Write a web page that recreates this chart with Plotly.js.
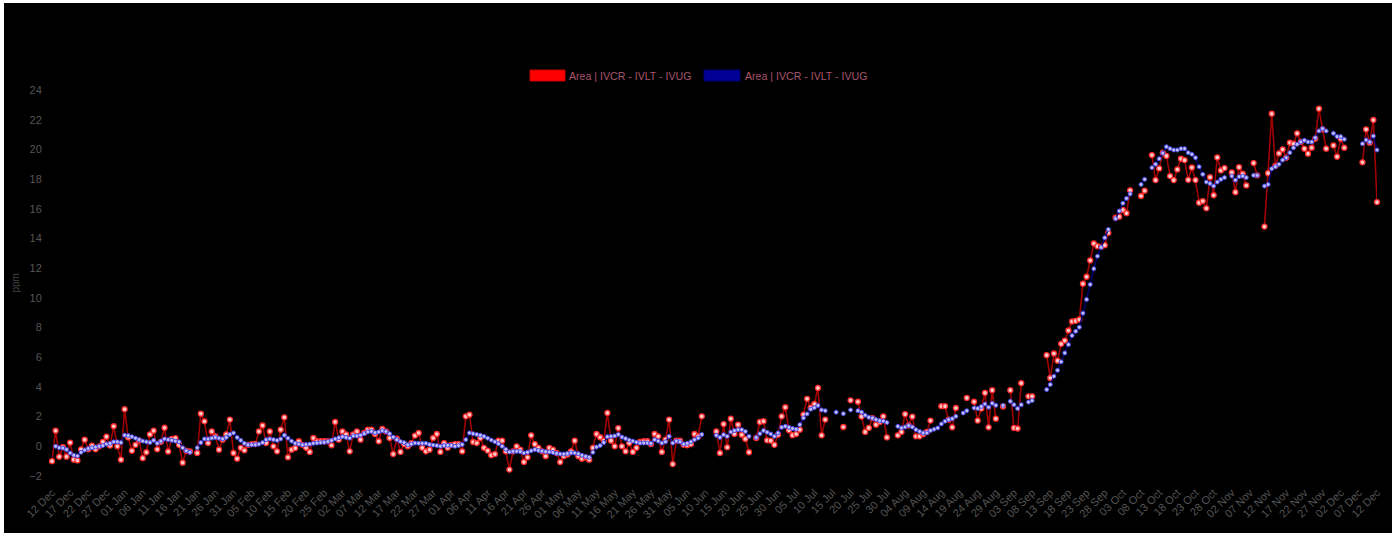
<!DOCTYPE html>
<html>
<head>
<meta charset="utf-8">
<script src="https://cdn.plot.ly/plotly-3.0.1.min.js"></script>
<style>
  html, body { margin: 0; padding: 0; background: #ffffff; width: 1400px; height: 535px; overflow: hidden; }
  #chart { position: absolute; left: 4px; top: 3px; width: 1388px; height: 530px; background: #000; }
</style>
</head>
<body>
<div id="chart"></div>
<script>
// ---- data ----
const startDate = '2022-12-12';
const numDays = 366;
const seriesName = 'Area | IVCR - IVLT - IVUG';
const yUnit = 'ppm';
const yTicks = [-2, 0, 2, 4, 6, 8, 10, 12, 14, 16, 18, 20, 22, 24];

// daily values (red series)
const dailyValues = [
  -1.0, 1.05, -0.7, -0.05, -0.7, 0.25, -0.9, -0.95, -0.2, 0.45,
  -0.2, 0.05, -0.2, 0.0, 0.3, 0.65, 0.05, 1.35, 0.0, -0.9,
  2.5, 0.6, -0.3, 0.1, 0.4, -0.8, -0.4, 0.8, 1.05, -0.2,
  0.3, 1.25, -0.35, 0.5, 0.55, 0.1, -1.1, -0.3, -0.35, null,
  -0.45, 2.2, 1.68, 0.22, 1.0, 0.67, -0.23, 0.45, 0.8, 1.8,
  -0.45, -0.83, -0.1, -0.27, 0.1, 0.15, 0.15, 1.0, 1.4, 0.22,
  1.0, 0.0, -0.34, 1.12, 1.95, -0.74, -0.23, -0.12, 0.34, 0.1,
  -0.1, -0.38, 0.56, 0.34, 0.34, 0.34, 0.34, 0.07, 1.64, 0.45,
  1.0, 0.8, -0.34, 0.8, 1.0, 0.45, 0.9, 1.12, 1.12, 0.83,
  0.34, 1.17, 1.0, 0.56, -0.52, 0.51, -0.38, 0.15, 0.0, 0.22,
  0.72, 0.9, -0.1, -0.34, -0.23, 0.56, 0.83, -0.38, 0.22, -0.1,
  0.1, 0.15, 0.15, -0.34, 2.02, 2.13, 0.29, 0.22, 0.56, -0.1,
  -0.29, -0.6, -0.52, 0.38, 0.38, -0.34, -1.57, -0.34, 0.0, -0.23,
  -1.06, -0.74, 0.74, 0.15, -0.1, -0.34, -0.67, -0.1, -0.23, -0.45,
  -1.06, -0.67, -0.56, -0.34, 0.38, -0.67, -0.83, -0.74, -0.9, -0.1,
  0.83, 0.61, 0.38, 2.25, 0.38, 0.0, 1.23, 0.0, -0.34, 0.22,
  -0.38, -0.1, 0.29, 0.34, 0.34, 0.15, 0.83, 0.67, -0.38, 0.45,
  1.8, -1.2, 0.38, 0.38, 0.1, 0.07, 0.15, 0.83, 0.67, 2.02,
  null, null, null, 1.0, -0.45, 1.5, -0.07, 1.86, 0.83, 1.46,
  0.78, 0.5, -0.4, null, 0.56, 1.64, 1.69, 0.4, 0.38, 0.1,
  0.78, 2.02, 2.63, 1.08, 0.75, 0.83, 1.12, 2.14, 3.2, 2.6,
  2.85, 3.93, 0.74, 1.8, null, null, null, null, 1.3, null,
  3.1, null, 3.0, 2.0, 0.97, 1.24, 1.9, 1.46, 1.64, 2.02,
  0.6, null, null, 0.74, 0.97, 2.17, 1.4, 2.0, 0.67, 0.67,
  0.83, 0.97, 1.73, null, null, 2.7, 2.7, 1.8, 1.28, 2.58,
  null, null, 3.26, null, 3.0, 1.73, 2.54, 3.6, 1.28, 3.78,
  1.86, null, 2.68, null, 3.78, 1.24, 1.2, 4.25, null, 3.37,
  3.37, null, null, null, 6.14, 4.6, 6.25, 5.77, 6.9, 7.12,
  7.8, 8.41, 8.45, 8.54, 10.95, 11.42, 12.52, 13.66, 13.48, 13.44,
  13.55, 14.38, null, 15.4, 15.47, 15.92, 15.7, 17.24, null, null,
  16.86, 17.22, null, 19.62, 17.93, 18.72, 19.78, 19.56, 18.2, 17.93,
  18.65, 19.37, 19.28, 17.95, 18.78, 17.93, 16.41, 16.52, 16.03, 18.13,
  16.91, 19.46, 18.58, 18.74, null, 18.45, 17.12, 18.8, 18.36, 17.57,
  null, 19.08, 18.25, null, 14.8, 18.4, 22.4, 18.88, 19.73, 20.0,
  19.44, 20.45, 20.38, 21.08, 20.5, 20.05, 19.71, 20.11, 20.72, 22.74,
  21.35, 20.05, null, 20.27, 19.51, 20.72, 20.11, null, null, null,
  null, 19.13, 21.35, 20.45, 21.98, 16.45
];

// smoothed values (blue series)
const smoothValues = [
  null, 0.0, -0.1, -0.12, -0.22, -0.45, -0.6, -0.65, -0.4, -0.25,
  -0.15, -0.1, -0.05, 0.0, 0.05, 0.15, 0.2, 0.3, 0.3, 0.25,
  0.75, 0.72, 0.65, 0.55, 0.45, 0.35, 0.3, 0.25, 0.4, 0.2,
  0.35, 0.5, 0.45, 0.4, 0.35, 0.3, -0.1, -0.3, -0.4, null,
  -0.1, 0.25, 0.5, 0.5, 0.55, 0.6, 0.55, 0.5, 0.6, 0.8,
  0.9, 0.6, 0.4, 0.2, 0.1, 0.1, 0.1, 0.15, 0.25, 0.45,
  0.5, 0.45, 0.4, 0.5, 0.75, 0.55, 0.35, 0.2, 0.15, 0.1,
  0.12, 0.15, 0.2, 0.22, 0.25, 0.27, 0.32, 0.4, 0.5, 0.58,
  0.65, 0.6, 0.55, 0.7, 0.7, 0.75, 0.85, 0.97, 1.0, 0.92,
  0.97, 1.05, 1.0, 0.85, 0.62, 0.45, 0.32, 0.25, 0.1, 0.15,
  0.22, 0.2, 0.2, 0.2, 0.12, 0.08, 0.05, 0.0, 0.05, 0.07,
  0.05, 0.0, 0.05, 0.12, 0.45, 0.9, 0.85, 0.8, 0.75, 0.67,
  0.55, 0.42, 0.3, 0.18, 0.0, -0.2, -0.38, -0.34, -0.34, -0.36,
  -0.45, -0.4, -0.3, -0.22, -0.28, -0.32, -0.36, -0.38, -0.42, -0.48,
  -0.52, -0.52, -0.48, -0.45, -0.45, -0.5, -0.6, -0.68, -0.74, -0.4,
  -0.05, 0.05, 0.25, 0.65, 0.67, 0.7, 0.8, 0.62, 0.52, 0.42,
  0.35, 0.27, 0.22, 0.22, 0.22, 0.2, 0.45, 0.35, 0.22, 0.3,
  0.67, 0.22, 0.35, 0.3, 0.15, 0.2, 0.3, 0.45, 0.56, 0.8,
  null, null, null, 0.74, 0.6, 0.78, 0.67, 0.97, 1.06, 1.12,
  1.12, 1.0, 0.67, null, 0.6, 0.85, 1.06, 0.95, 0.83, 0.67,
  0.9, 1.28, 1.35, 1.28, 1.2, 1.15, 1.46, 1.91, 2.18, 2.5,
  2.6, 2.75, 2.45, 2.4, null, null, 2.3, null, 2.2, null,
  2.45, null, 2.4, 2.3, 2.1, 1.95, 1.9, 1.8, 1.73, 1.7,
  1.6, null, null, 1.35, 1.24, 1.3, 1.4, 1.3, 1.12, 1.0,
  0.9, 0.9, 1.06, 1.15, 1.24, 1.51, 1.69, 1.8, 1.86, 2.02,
  null, 2.24, 2.4, null, 2.58, 2.55, 2.68, 2.85, 2.63, 2.9,
  2.76, null, 2.76, null, 3.03, 2.8, 2.54, 2.8, null, 2.98,
  3.08, null, null, null, 3.82, 4.16, 4.72, 5.12, 5.69, 6.29,
  6.85, 7.46, 7.75, 8.02, 8.97, 9.89, 10.9, 11.96, 12.81, 13.4,
  14.05, 14.61, null, 15.33, 15.85, 16.37, 16.7, 17.0, null, null,
  17.64, 17.98, null, 18.77, 19.0, 19.37, 19.75, 20.18, 20.05, 19.96,
  19.96, 20.05, 20.05, 19.78, 19.67, 19.44, 18.83, 18.32, 17.8, 17.7,
  17.53, 17.8, 17.98, 18.1, null, 18.2, 17.93, 18.16, 18.2, 18.1,
  null, 18.25, 18.25, null, 17.53, 17.64, 18.7, 18.83, 19.0, 19.28,
  19.44, 19.78, 20.11, 20.34, 20.5, 20.61, 20.5, 20.5, 20.79, 21.24,
  21.4, 21.24, null, 21.08, 20.86, 20.86, 20.68, null, null, null,
  null, 20.38, 20.63, 20.5, 20.9, 19.96
];

// ---- dates (daily) ----
const DAY = 86400000;
const t0 = Date.parse(startDate + 'T00:00:00Z');
const dates = [];
for (let i = 0; i < numDays; i++) {
  dates.push(new Date(t0 + i * DAY).toISOString().slice(0, 10));
}

// ---- layout geometry ----
const W = 1388, H = 530;
const M = { l: 48, r: 15, t: 87, b: 57 };
const PW = W - M.l - M.r, PH = H - M.t - M.b;
const px = (x) => (x - M.l) / PW;
const py = (y) => (H - M.b - y) / PH;

const FONT = 'Liberation Sans, Arial, Helvetica, sans-serif';
const tickGrey = '#555555';
const legendText = '#a8566b';

const traceRed = {
  type: 'scatter', mode: 'lines+markers', name: seriesName,
  x: dates, y: dailyValues, cliponaxis: false, showlegend: false,
  line: { color: '#a00000', width: 1.6 },
  marker: { size: 5, color: '#ffc8c8', line: { color: '#ff2a2a', width: 1.3 } },
  hoverinfo: 'x+y'
};
const traceBlue = {
  type: 'scatter', mode: 'lines+markers', name: seriesName,
  x: dates, y: smoothValues, cliponaxis: false, showlegend: false,
  line: { color: '#00007a', width: 1.4 },
  marker: { size: 4, color: '#c0c0f4', line: { color: '#4646e8', width: 1 } },
  hoverinfo: 'x+y'
};

const layout = {
  width: W, height: H,
  margin: M,
  paper_bgcolor: '#000000', plot_bgcolor: '#000000',
  font: { family: FONT, size: 11, color: tickGrey },
  showlegend: false,
  xaxis: {
    type: 'date',
    range: [dates[0], dates[numDays - 1]],
    tick0: dates[0], dtick: 5 * DAY, tickformat: '%d %b',
    tickangle: -45, showgrid: false, zeroline: false, showline: false,
    ticks: 'outside', ticklen: 5, tickcolor: 'rgba(0,0,0,0)',
    tickfont: { family: FONT, size: 11, color: tickGrey }
  },
  yaxis: {
    range: [-2, 24], tickmode: 'array', tickvals: yTicks,
    showgrid: false, zeroline: false, showline: false,
    ticks: 'outside', ticklen: 7, tickcolor: 'rgba(0,0,0,0)',
    tickfont: { family: FONT, size: 11, color: tickGrey }
  },
  shapes: [
    { type: 'rect', xref: 'paper', yref: 'paper', x0: px(526), x1: px(561), y0: py(78), y1: py(67),
      fillcolor: '#ff0000', line: { color: '#c80000', width: 1 } },
    { type: 'rect', xref: 'paper', yref: 'paper', x0: px(700), x1: px(736), y0: py(78), y1: py(67),
      fillcolor: '#000096', line: { color: '#000070', width: 1 } }
  ],
  annotations: [
    { xref: 'paper', yref: 'paper', x: px(563), y: py(72.5), xanchor: 'left', yanchor: 'middle',
      text: seriesName, showarrow: false, font: { family: FONT, size: 10.6, color: legendText } },
    { xref: 'paper', yref: 'paper', x: px(739), y: py(72.5), xanchor: 'left', yanchor: 'middle',
      text: seriesName, showarrow: false, font: { family: FONT, size: 10.6, color: legendText } },
    { xref: 'paper', yref: 'paper', x: px(10.5), y: 0.5, xanchor: 'center', yanchor: 'middle',
      text: yUnit, textangle: -90, showarrow: false, font: { family: FONT, size: 10, color: '#444444' } }
  ]
};

Plotly.newPlot('chart', [traceRed, traceBlue], layout, { displayModeBar: false, staticPlot: true });
</script>
</body>
</html>
